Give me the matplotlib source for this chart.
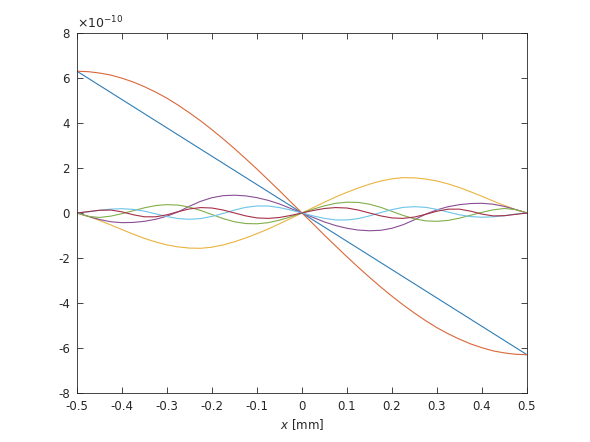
import matplotlib
matplotlib.use("Agg")
import matplotlib.pyplot as plt
from matplotlib.ticker import FuncFormatter

plt.rcParams['font.family'] = ['DejaVu Sans']
plt.rcParams['axes.unicode_minus'] = False

# sample positions [mm]
x = [-0.5, -0.475, -0.45, -0.425, -0.4, -0.375, -0.35, -0.325, -0.3, -0.275,
     -0.25, -0.225, -0.2, -0.175, -0.15, -0.125, -0.1, -0.075, -0.05, -0.025,
     0.0, 0.025, 0.05, 0.075, 0.1, 0.125, 0.15, 0.175, 0.2, 0.225,
     0.25, 0.275, 0.3, 0.325, 0.35, 0.375, 0.4, 0.425, 0.45, 0.475, 0.5]

# values in units of 1e-10
x_line = [-0.5, 0.5]
y_line = [6.3, -6.3]

y_orange = [6.30, 6.28, 6.22, 6.13, 5.99, 5.82, 5.61, 5.37, 5.10, 4.79,
            4.45, 4.09, 3.70, 3.29, 2.86, 2.41, 1.95, 1.47, 0.99, 0.49,
            0.0, -0.49, -0.99, -1.47, -1.95, -2.41, -2.86, -3.29, -3.70, -4.09,
            -4.45, -4.79, -5.10, -5.37, -5.61, -5.82, -5.99, -6.13, -6.22, -6.28, -6.30]

y_yellow = [0.0, -0.15, -0.33, -0.53, -0.74, -0.94, -1.13, -1.29, -1.42, -1.51,
            -1.56, -1.57, -1.52, -1.42, -1.28, -1.11, -0.92, -0.71, -0.48, -0.24,
            0.0, 0.24, 0.48, 0.71, 0.92, 1.11, 1.28, 1.42, 1.52, 1.57,
            1.56, 1.51, 1.42, 1.29, 1.13, 0.94, 0.74, 0.53, 0.33, 0.15, 0.0]

y_purple = [0.0, -0.15, -0.29, -0.39, -0.43, -0.42, -0.37, -0.28, -0.14, 0.05,
            0.30, 0.52, 0.68, 0.77, 0.79, 0.76, 0.68, 0.56, 0.40, 0.20,
            0.0, -0.20, -0.40, -0.56, -0.68, -0.76, -0.79, -0.77, -0.68, -0.52,
            -0.30, -0.05, 0.14, 0.28, 0.37, 0.42, 0.43, 0.39, 0.29, 0.15, 0.0]

y_green = [0.0, -0.15, -0.20, -0.14, -0.03, 0.10, 0.23, 0.33, 0.37, 0.35,
           0.26, 0.11, -0.07, -0.25, -0.39, -0.47, -0.48, -0.43, -0.32, -0.17,
           0.0, 0.17, 0.32, 0.43, 0.48, 0.47, 0.39, 0.25, 0.07, -0.11,
           -0.26, -0.35, -0.37, -0.33, -0.23, -0.10, 0.03, 0.14, 0.20, 0.15, 0.0]

y_cyan = [0.0, 0.05, 0.12, 0.17, 0.19, 0.16, 0.08, -0.04, -0.16, -0.25,
          -0.28, -0.25, -0.15, -0.02, 0.13, 0.25, 0.31, 0.31, 0.24, 0.13,
          0.0, -0.13, -0.24, -0.31, -0.31, -0.25, -0.13, 0.02, 0.15, 0.25,
          0.28, 0.25, 0.16, 0.04, -0.08, -0.16, -0.19, -0.17, -0.12, -0.05, 0.0]

y_maroon = [0.0, 0.06, 0.12, 0.13, 0.05, -0.08, -0.17, -0.17, -0.08, 0.06,
            0.18, 0.24, 0.22, 0.13, 0.0, -0.13, -0.22, -0.24, -0.20, -0.11,
            0.0, 0.11, 0.20, 0.24, 0.22, 0.13, 0.0, -0.13, -0.22, -0.24,
            -0.18, -0.06, 0.08, 0.17, 0.17, 0.08, -0.05, -0.13, -0.12, -0.06, 0.0]

SCALE = 1e-10
xticks = [-0.5, -0.4, -0.3, -0.2, -0.1, 0.0, 0.1, 0.2, 0.3, 0.4, 0.5]
yticks = [-8, -6, -4, -2, 0, 2, 4, 6, 8]

colors = {
    'blue': '#2f7db5',
    'orange': '#d9683a',
    'yellow': '#ebb340',
    'purple': '#8a4f94',
    'green': '#83ae4a',
    'cyan': '#6cc5ea',
    'maroon': '#a53048',
}

fig = plt.figure(figsize=(5.9, 4.42), dpi=100)
ax = fig.add_axes([0.1305, 0.1109, 0.7627, 0.8145])

lw = 0.8
ax.plot(x_line, [v * SCALE for v in y_line], color=colors['blue'], lw=lw)
ax.plot(x, [v * SCALE for v in y_orange], color=colors['orange'], lw=lw)
ax.plot(x, [v * SCALE for v in y_yellow], color=colors['yellow'], lw=lw)
ax.plot(x, [v * SCALE for v in y_purple], color=colors['purple'], lw=lw)
ax.plot(x, [v * SCALE for v in y_green], color=colors['green'], lw=lw)
ax.plot(x, [v * SCALE for v in y_cyan], color=colors['cyan'], lw=lw)
ax.plot(x, [v * SCALE for v in y_maroon], color=colors['maroon'], lw=lw)

ax.set_xlim(-0.5, 0.5)
ax.set_ylim(-8 * SCALE, 8 * SCALE)
ax.set_xticks(xticks)
ax.set_yticks([t * SCALE for t in yticks])
ax.xaxis.set_major_formatter(FuncFormatter(lambda v, p: f"{v:g}"))
ax.yaxis.set_major_formatter(FuncFormatter(lambda v, p: f"{round(v / SCALE):d}"))

axcol = '#262626'
for s in ax.spines.values():
    s.set_color(axcol)
    s.set_linewidth(0.6)
ax.tick_params(direction='in', length=4, width=0.6, colors=axcol,
               labelsize=8.5, top=True, right=True, pad=5)

ax.set_xlabel(r'$x$ [mm]', fontsize=8.5, color=axcol, labelpad=3)
ax.text(0.0, 1.006, r'$\times10^{-10}$', transform=ax.transAxes,
        ha='left', va='bottom', fontsize=9, color=axcol)

fig.savefig('out.png', dpi=100, facecolor='white')
